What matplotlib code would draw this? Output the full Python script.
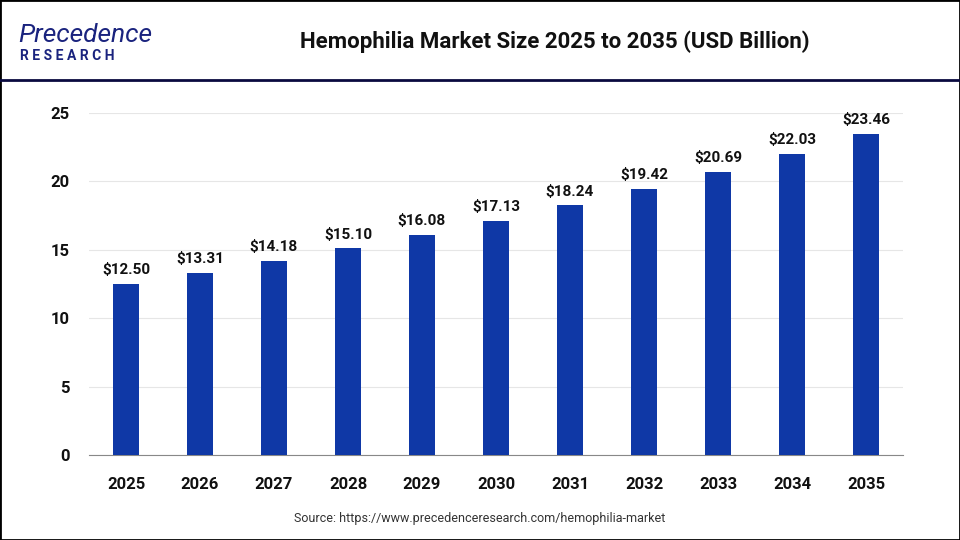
import matplotlib
matplotlib.use("Agg")
import matplotlib.pyplot as plt
from matplotlib.patches import Rectangle
from matplotlib.lines import Line2D

years = ["2025","2026","2027","2028","2029","2030","2031","2032","2033","2034","2035"]
values = [12.50,13.31,14.18,15.10,16.08,17.13,18.24,19.42,20.69,22.03,23.46]
yticks = [0,5,10,15,20,25]

plt.rcParams['font.family'] = ['Roboto','DejaVu Sans']
fig = plt.figure(figsize=(9.6,5.4), dpi=100)
ax = fig.add_axes([89/960, 1-455/540, 814/960, 342/540])
x = list(range(len(years)))
ax.bar(x, values, width=0.35, color='#0f38a6', zorder=3)
for xi, v in zip(x, values):
    ax.text(xi, v+0.5, f"${v:.2f}", ha='center', va='bottom', fontsize=11, fontweight='bold', color='#111')
ax.set_xlim(-0.5, 10.5)
ax.set_ylim(0, 25)
ax.set_yticks(yticks)
ax.set_xticks(x)
ax.set_xticklabels(years)
ax.tick_params(axis='x', length=0, labelsize=12, pad=16)
ax.tick_params(axis='y', length=0, labelsize=12, pad=14)
for l in ax.get_xticklabels()+ax.get_yticklabels():
    l.set_fontweight('bold'); l.set_color('#111')
ax.grid(axis='y', color='#e6e6e6', lw=0.8, zorder=0)
for s in ['top','right','left']:
    ax.spines[s].set_visible(False)
ax.spines['bottom'].set_color('#888')

fig.text(0.578, 0.922, "Hemophilia Market Size 2025 to 2035 (USD Billion)", ha='center', va='center', fontsize=16, fontweight='bold', color='#111')
fig.text(18/960, 0.935, "Precedence", fontsize=19, color='#1a237e', va='center', fontstyle='italic')
fig.text(20/960, 0.897, "R E S E A R C H", fontsize=10, color='#1a237e', va='center', fontweight='bold')
fig.text(0.5, 0.033, "Source: https://www.precedenceresearch.com/hemophilia-market", ha='center', fontsize=9, color='#333')
fig.add_artist(Line2D([0,1],[1-80/540]*2, color='#0a0a40', lw=2, transform=fig.transFigure))
fig.add_artist(Rectangle((0,0),1,1, fill=False, ec='black', lw=2, transform=fig.transFigure))
fig.savefig("out.png", dpi=100)
